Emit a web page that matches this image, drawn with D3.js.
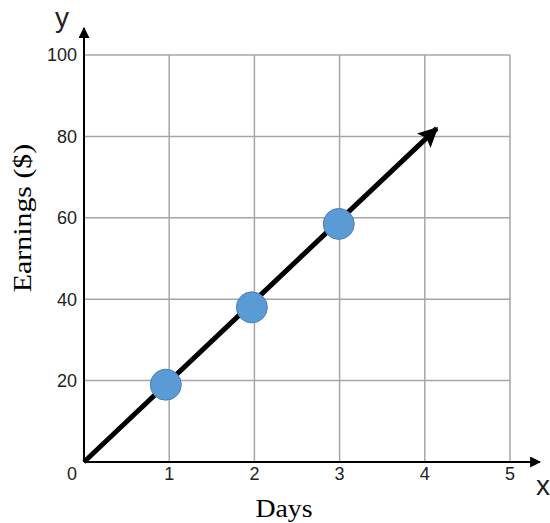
<!DOCTYPE html>
<html>
<head>
<meta charset="utf-8">
<script src="https://cdn.jsdelivr.net/npm/d3@7"></script>
<style>
  body { margin: 0; background: #fff; }
  svg { display: block; }
</style>
</head>
<body>
<script>
// values
const xTicks = [0, 1, 2, 3, 4, 5];
const yTicks = [20, 40, 60, 80, 100];
const days = [0.96, 1.97, 2.99];
const earnings = [19, 38, 58.5];
const lineEnd = [0, 4.14];   // arrow line from origin out to x=4.14
const rate = 19.8;

const width = 550, height = 523;
const svg = d3.select('body').append('svg').attr('width', width).attr('height', height);

const x = d3.scaleLinear().domain([0, 5]).range([84, 510]);
const y = d3.scaleLinear().domain([0, 100]).range([462, 55]);

const sans = '"Liberation Sans", Arial, sans-serif',
      serif = '"Liberation Serif", "Times New Roman", serif';

const defs = svg.append('defs');
defs.append('marker').attr('id', 'axhead')
    .attr('viewBox', '0 0 10 10').attr('refX', 9).attr('refY', 5)
    .attr('markerWidth', 11).attr('markerHeight', 11).attr('markerUnits', 'userSpaceOnUse')
    .attr('orient', 'auto')
  .append('path').attr('d', 'M0,0L10,5L0,10z').attr('fill', '#000');
defs.append('marker').attr('id', 'lnhead')
    .attr('viewBox', '0 0 10 10').attr('refX', 9).attr('refY', 5)
    .attr('markerWidth', 20).attr('markerHeight', 20).attr('markerUnits', 'userSpaceOnUse')
    .attr('orient', 'auto')
  .append('path').attr('d', 'M0,0L10,5L0,10L2,5z').attr('fill', '#000');

// grid
const grid = svg.append('g').attr('stroke', '#a6a6a6').attr('stroke-width', 1.5);
grid.selectAll('line.v').data(xTicks.slice(1)).join('line')
    .attr('x1', d => x(d)).attr('x2', d => x(d))
    .attr('y1', y(0)).attr('y2', y(100));
grid.selectAll('line.h').data(yTicks).join('line')
    .attr('x1', x(0)).attr('x2', x(5))
    .attr('y1', d => y(d)).attr('y2', d => y(d));

// axes with arrows
svg.append('line').attr('x1', x(0)).attr('y1', y(0)).attr('x2', x(0)).attr('y2', 28)
    .attr('stroke', '#000').attr('stroke-width', 2).attr('marker-end', 'url(#axhead)');
svg.append('line').attr('x1', x(0)).attr('y1', y(0)).attr('x2', 540).attr('y2', y(0))
    .attr('stroke', '#000').attr('stroke-width', 2).attr('marker-end', 'url(#axhead)');

// tick labels
svg.append('g').selectAll('text').data(yTicks).join('text')
    .attr('x', 77).attr('y', d => y(d)).attr('dy', '0.35em')
    .attr('text-anchor', 'end')
    .style('font', `18px ${sans}`).style('fill', '#222')
    .text(d => d);
svg.append('g').selectAll('text').data(xTicks).join('text')
    .attr('x', d => d === 0 ? 72 : x(d)).attr('y', 480)
    .attr('text-anchor', 'middle')
    .style('font', `18px ${sans}`).style('fill', '#222')
    .text(d => d);

// axis letters
svg.append('text').attr('x', 62).attr('y', 27).attr('text-anchor', 'middle')
    .style('font', `28px ${sans}`).style('fill', '#222').text('y');
svg.append('text').attr('x', 543).attr('y', 495).attr('text-anchor', 'middle')
    .style('font', `28px ${sans}`).style('fill', '#222').text('x');

// axis titles
svg.append('text').attr('transform', 'translate(31,218) rotate(-90) scale(1.15,1)').attr('text-anchor', 'middle')
    .style('font', `26px ${serif}`).style('fill', '#000')
    .text('Earnings ($)');
svg.append('text').attr('transform', 'translate(284,517) scale(1.07,1)').attr('text-anchor', 'middle')
    .style('font', `26px ${serif}`).style('fill', '#000')
    .text('Days');

// trend line with arrow
svg.append('line')
    .attr('x1', x(lineEnd[0])).attr('y1', y(rate * lineEnd[0]))
    .attr('x2', x(lineEnd[1])).attr('y2', y(rate * lineEnd[1]))
    .attr('stroke', '#000').attr('stroke-width', 5).attr('marker-end', 'url(#lnhead)');

// points
svg.append('g').selectAll('circle').data(days).join('circle')
    .attr('cx', d => x(d)).attr('cy', (d, i) => y(earnings[i])).attr('r', 15.5)
    .attr('fill', '#5b9bd5').attr('stroke', '#4a7fb5').attr('stroke-width', 1);
</script>
</body>
</html>
